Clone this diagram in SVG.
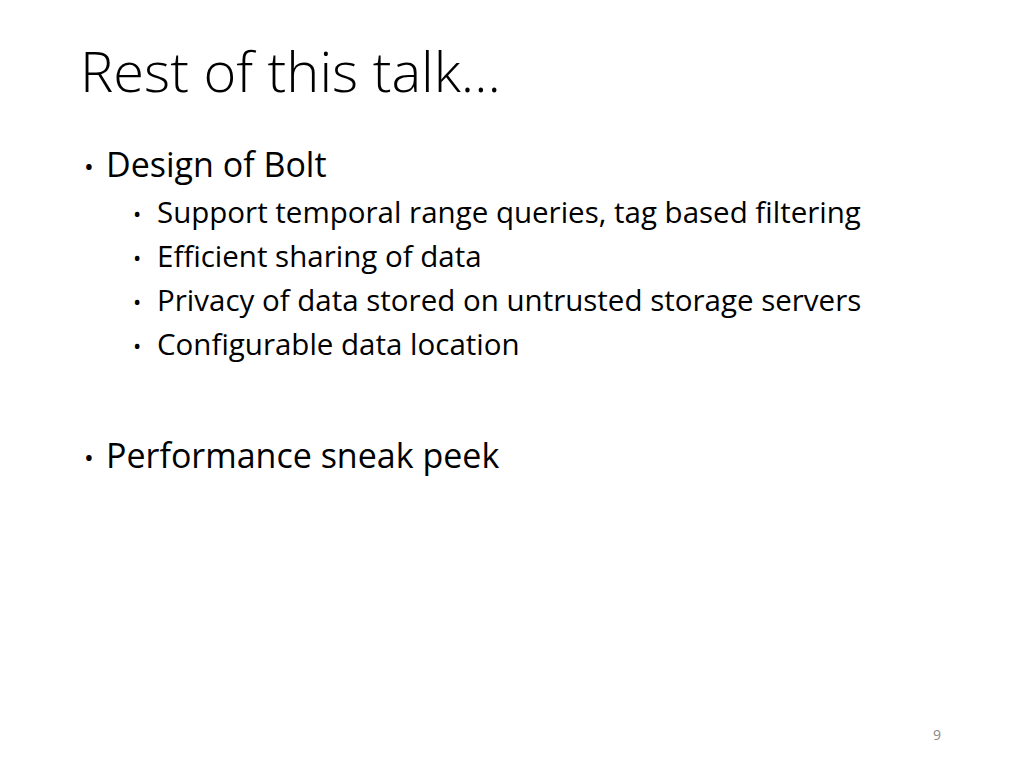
<svg xmlns="http://www.w3.org/2000/svg" width="1024" height="768" viewBox="0 0 1024 768">
<style>
text{font-family:"Open Sans","Noto Sans",sans-serif;fill:#000}
.t{font-size:56px;font-weight:300}
.l1{font-size:34px}
.l2{font-size:29.5px}
.b1{font-size:26px}
.b2{font-size:22px}
.pn{font-size:14px;fill:#888}
</style>
<rect width="1024" height="768" fill="#fff"/>
<text class="t" x="80" y="92">Rest of this talk…</text>
<text class="b1" x="84" y="176">•</text>
<text class="l1" x="106" y="177">Design of Bolt</text>
<text class="b2" x="133" y="222">•</text>
<text class="l2" x="157" y="223">Support temporal range queries, tag based filtering</text>
<text class="b2" x="133" y="266">•</text>
<text class="l2" x="157" y="267">Efficient sharing of data</text>
<text class="b2" x="133" y="310">•</text>
<text class="l2" x="157" y="311">Privacy of data stored on untrusted storage servers</text>
<text class="b2" x="133" y="354">•</text>
<text class="l2" x="157" y="355">Configurable data location</text>
<text class="b1" x="84" y="467">•</text>
<text class="l1" x="106" y="468">Performance sneak peek</text>
<text class="pn" x="933" y="740">9</text>
</svg>
